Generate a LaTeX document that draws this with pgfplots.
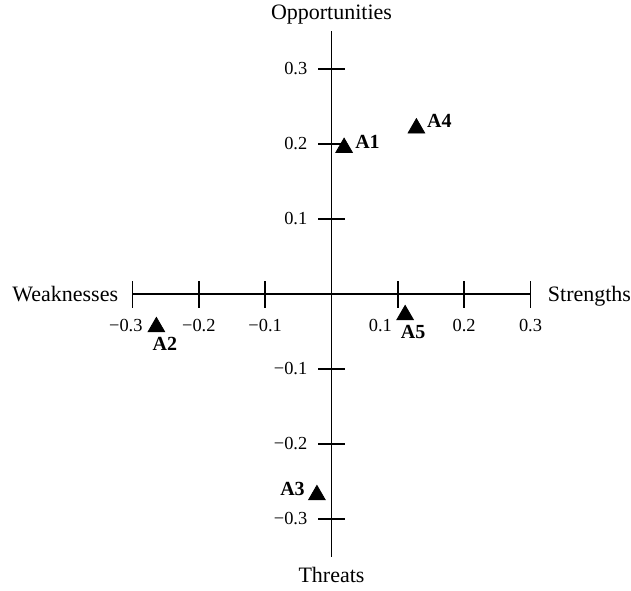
\documentclass[border=0pt]{standalone}
\usepackage{fontspec}
\setmainfont{Liberation Serif}
\usepackage{pgfplots}
\pgfplotsset{compat=1.18}

% label style for the alternatives
\pgfplotsset{alt/.style={only marks, mark=triangle*, mark size=4.8pt, black,
    nodes near coords, point meta=explicit symbolic,
    nodes near coords style={font=\fontsize{10}{12}\selectfont\bfseries, inner sep=0pt, #1}}}

\begin{document}
\fontsize{11}{13}\selectfont
\begin{tikzpicture}
\begin{axis}[
    name=ax,
    scale only axis,
    width=199pt, height=262.5pt,
    xmin=-0.3, xmax=0.3,
    ymin=-0.35, ymax=0.35,
    axis lines=middle,
    axis line style={-, line width=0.8pt},
    tick style={line width=0.8pt, black},
    tick align=center,
    major tick length=13.5pt,
    xtick={-0.3,-0.2,-0.1,0.1,0.2,0.3},
    ytick={-0.3,-0.2,-0.1,0.1,0.2,0.3},
    xticklabels={\makebox[0pt][r]{−0.3\hspace{-5pt}},−0.2,−0.1,\makebox[0pt][r]{0.1\hspace{3pt}},0.2,0.3},
    yticklabels={−0.3,−0.2,−0.1,0.1,0.2,0.3},
    ticklabel style={font=\fontsize{9.2}{11}\selectfont},
    xticklabel style={anchor=north, yshift=-2pt},
    yticklabel style={anchor=east, xshift=-1.5pt},
    clip=false,
]

\addplot[alt={anchor=west, xshift=5.4pt, yshift=3pt}] coordinates {(0.019,0.195) [A1]};
\addplot[alt={anchor=north, xshift=4.2pt, yshift=-5pt}] coordinates {(-0.264,-0.044) [A2]};
\addplot[alt={anchor=east, xshift=-5.9pt, yshift=3pt}] coordinates {(-0.022,-0.268) [A3]};
\addplot[alt={anchor=west, xshift=5.2pt, yshift=3.7pt}] coordinates {(0.128,0.221) [A4]};
\addplot[alt={anchor=north, xshift=4pt, yshift=-5pt}] coordinates {(0.111,-0.028) [A5]};

% axis end labels
\node[anchor=base, inner sep=0pt, yshift=6pt] at (rel axis cs:0.5,1) {Opportunities};
\node[anchor=base, inner sep=0pt, yshift=-13pt] at (rel axis cs:0.5,0) {Threats};
\node[anchor=base east, inner sep=0pt, xshift=-7pt, yshift=-3.5pt] at (rel axis cs:0,0.5) {Weaknesses};
\node[anchor=base west, inner sep=0pt, xshift=8.5pt, yshift=-3.5pt] at (rel axis cs:1,0.5) {Strengths};
\end{axis}
\pgfresetboundingbox
\path ([shift={(-165.75pt,-148pt)}]ax.origin) rectangle ([shift={(149.75pt,147pt)}]ax.origin);
\end{tikzpicture}
\end{document}
